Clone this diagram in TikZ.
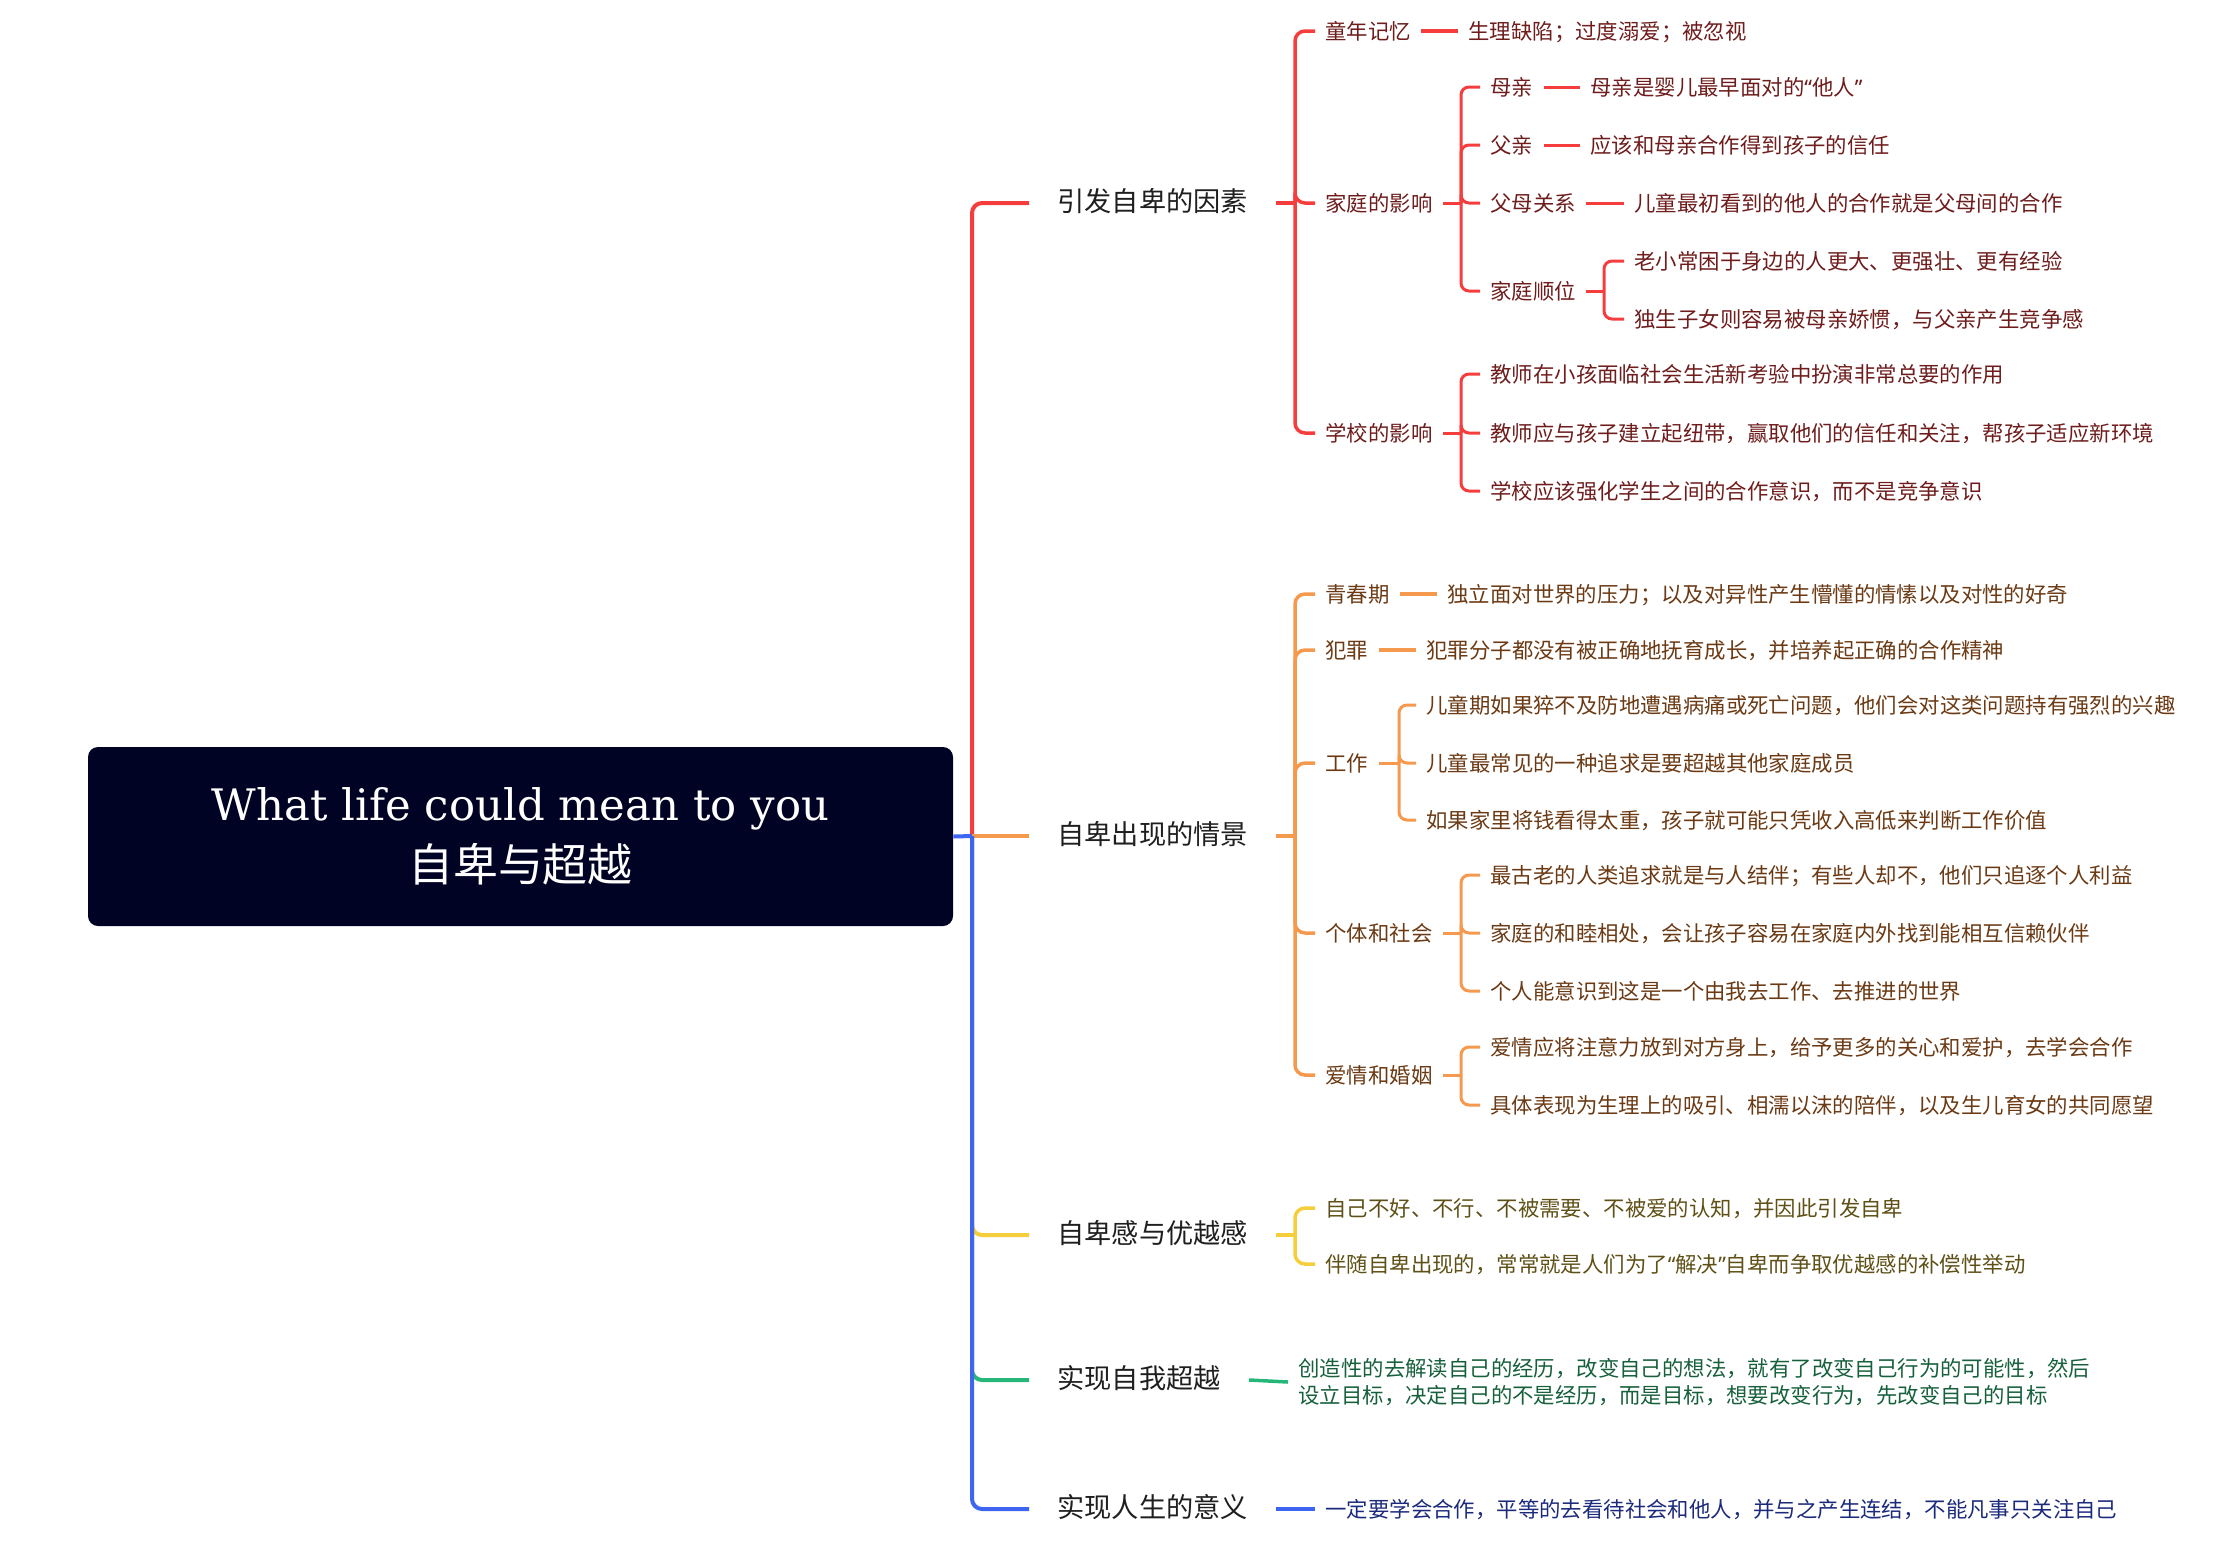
\documentclass[tikz,border=0pt]{standalone}
\usepackage{fontspec}
\setmainfont{Noto Sans CJK SC}
\newfontfamily\titlefont{DejaVu Serif}
\newfontfamily\qfont{Noto Sans}
\newcommand{\oqt}{{\qfont “}}
\newcommand{\cqt}{{\qfont ”}}
\definecolor{rootbg}{HTML}{000324}
\definecolor{redL}{HTML}{F53D3D}
\definecolor{redT}{HTML}{6E1C1C}
\definecolor{orgL}{HTML}{F5994E}
\definecolor{orgT}{HTML}{6B3A14}
\definecolor{yelL}{HTML}{F4CE3C}
\definecolor{yelT}{HTML}{5E5016}
\definecolor{grnL}{HTML}{25B779}
\definecolor{grnT}{HTML}{17603C}
\definecolor{bluL}{HTML}{3E64F2}
\definecolor{bluT}{HTML}{1C2A7C}
\begin{document}
\begin{tikzpicture}[x=0.5pt,y=-0.5pt]
    \tikzset{
    root/.style={rectangle,rounded corners=5pt,fill=rootbg,text=white,minimum width=432.5pt,minimum height=89.5pt,align=center,font=\fontsize{22.5}{30.5}\selectfont},
    l1/.style={anchor=west,inner xsep=14pt,inner ysep=2pt,text height=0.92em,text depth=0.04em,font=\fontsize{13.6}{16}\selectfont,text=black!88},
    l2/.style={anchor=west,inner xsep=5pt,inner ysep=2pt,text height=0.9em,text depth=0.06em,font=\fontsize{10.7}{13.5}\selectfont},
    rn/.style={l2,text=redT},
    on/.style={l2,text=orgT},
    yn/.style={l2,text=yelT},
    gn/.style={anchor=west,inner xsep=5pt,inner ysep=2pt,font=\fontsize{10.7}{13.5}\selectfont,text=grnT,align=left},
    bn/.style={l2,text=bluT},
    c1/.style={line width=2pt,rounded corners=5pt},
    c2/.style={line width=1.75pt,rounded corners=5pt},
    c3/.style={line width=1.5pt,rounded corners=4pt},
    }
    \useasboundingbox (0,0) rectangle (2224,1560);

    % root and main branches
    \node[root] (root) at (520.5,836.5) {{\titlefont\fontsize{21.7}{30.5}\selectfont What life could mean to you}\\自卑与超越};
    \coordinate (trunk) at (972,836);
    \node[l1] (cause) at (1029,203) {引发自卑的因素};
    \node[l1] (scene) at (1029,836) {自卑出现的情景};
    \node[l1] (feel) at (1029,1235) {自卑感与优越感};
    \node[l1] (self) at (1029,1380) {实现自我超越};
    \node[l1] (life) at (1029,1509) {实现人生的意义};
    \draw[c1,redL] (trunk) |- (cause.west);
    \draw[c1,orgL] (trunk) -- (scene.west);
    \draw[c1,yelL] (trunk) |- (feel.west);
    \draw[c1,grnL] (trunk) |- (self.west);
    \draw[c1,bluL] (root.east) -- (trunk);
    \draw[c1,bluL] (trunk) |- (life.west);

    % causes
    \coordinate (causeJ) at (1295,203);
    \node[rn] (kid) at (1315,31) {童年记忆};
    \node[rn] (kidA) at (1458,31) {生理缺陷；过度溺爱；被忽视};
    \node[rn] (home) at (1315,203) {家庭的影响};
    \node[rn] (school) at (1315,433) {学校的影响};
    \draw[c2,redL] (cause.east) -- (causeJ);
    \foreach \n in {kid,home,school}
        \draw[c2,redL] (causeJ) |- (\n.west);
    \draw[c2,redL] (kid.east) -- (kidA.west);

    \coordinate (homeJ) at (1461,203);
    \node[rn] (mom) at (1480,87) {母亲};
    \node[rn] (momA) at (1580,87) {母亲是婴儿最早面对的\oqt 他人\cqt};
    \node[rn] (dad) at (1480,145) {父亲};
    \node[rn] (dadA) at (1580,145) {应该和母亲合作得到孩子的信任};
    \node[rn] (par) at (1480,203) {父母关系};
    \node[rn] (parA) at (1624,203) {儿童最初看到的他人的合作就是父母间的合作};
    \node[rn] (order) at (1480,291) {家庭顺位};
    \coordinate (orderJ) at (1604,291);
    \node[rn] (orderA) at (1624,261) {老小常困于身边的人更大、更强壮、更有经验};
    \node[rn] (orderB) at (1624,319) {独生子女则容易被母亲娇惯，与父亲产生竞争感};
    \draw[c3,redL] (home.east) -- (homeJ);
    \foreach \n in {mom,dad,par,order}
        \draw[c3,redL] (homeJ) |- (\n.west);
    \draw[c3,redL] (mom.east) -- (momA.west);
    \draw[c3,redL] (dad.east) -- (dadA.west);
    \draw[c3,redL] (par.east) -- (parA.west);
    \draw[c3,redL] (order.east) -- (orderJ);
    \foreach \n in {orderA,orderB}
        \draw[c3,redL] (orderJ) |- (\n.west);

    \coordinate (schoolJ) at (1461,433);
    \node[rn] (schA) at (1480,374) {教师在小孩面临社会生活新考验中扮演非常总要的作用};
    \node[rn] (schB) at (1480,433) {教师应与孩子建立起纽带，赢取他们的信任和关注，帮孩子适应新环境};
    \node[rn] (schC) at (1480,491) {学校应该强化学生之间的合作意识，而不是竞争意识};
    \draw[c3,redL] (school.east) -- (schoolJ);
    \foreach \n in {schA,schB,schC}
        \draw[c3,redL] (schoolJ) |- (\n.west);

    % scenes
    \coordinate (sceneJ) at (1295,836);
    \node[on] (teen) at (1315,594) {青春期};
    \node[on] (teenA) at (1437,594) {独立面对世界的压力；以及对异性产生懵懂的情愫以及对性的好奇};
    \node[on] (crime) at (1315,650) {犯罪};
    \node[on] (crimeA) at (1416,650) {犯罪分子都没有被正确地抚育成长，并培养起正确的合作精神};
    \node[on] (work) at (1315,763) {工作};
    \node[on] (soc) at (1315,933) {个体和社会};
    \node[on] (love) at (1315,1075) {爱情和婚姻};
    \draw[c2,orgL] (scene.east) -- (sceneJ);
    \foreach \n in {teen,crime,work,soc,love}
        \draw[c2,orgL] (sceneJ) |- (\n.west);
    \draw[c2,orgL] (teen.east) -- (teenA.west);
    \draw[c2,orgL] (crime.east) -- (crimeA.west);

    \coordinate (workJ) at (1399,763);
    \node[on] (workA) at (1416,705) {儿童期如果猝不及防地遭遇病痛或死亡问题，他们会对这类问题持有强烈的兴趣};
    \node[on] (workB) at (1416,763) {儿童最常见的一种追求是要超越其他家庭成员};
    \node[on] (workC) at (1416,820) {如果家里将钱看得太重，孩子就可能只凭收入高低来判断工作价值};
    \draw[c3,orgL] (work.east) -- (workJ);
    \foreach \n in {workA,workB,workC}
        \draw[c3,orgL] (workJ) |- (\n.west);

    \coordinate (socJ) at (1461,933);
    \node[on] (socA) at (1480,875) {最古老的人类追求就是与人结伴；有些人却不，他们只追逐个人利益};
    \node[on] (socB) at (1480,933) {家庭的和睦相处，会让孩子容易在家庭内外找到能相互信赖伙伴};
    \node[on] (socC) at (1480,991) {个人能意识到这是一个由我去工作、去推进的世界};
    \draw[c3,orgL] (soc.east) -- (socJ);
    \foreach \n in {socA,socB,socC}
        \draw[c3,orgL] (socJ) |- (\n.west);

    \coordinate (loveJ) at (1461,1075);
    \node[on] (loveA) at (1480,1047) {爱情应将注意力放到对方身上，给予更多的关心和爱护，去学会合作};
    \node[on] (loveB) at (1480,1105) {具体表现为生理上的吸引、相濡以沫的陪伴，以及生儿育女的共同愿望};
    \draw[c3,orgL] (love.east) -- (loveJ);
    \foreach \n in {loveA,loveB}
        \draw[c3,orgL] (loveJ) |- (\n.west);

    % feelings
    \coordinate (feelJ) at (1295,1235);
    \node[yn] (feelA) at (1315,1208) {自己不好、不行、不被需要、不被爱的认知，并因此引发自卑};
    \node[yn] (feelB) at (1315,1264) {伴随自卑出现的，常常就是人们为了\oqt 解决\cqt 自卑而争取优越感的补偿性举动};
    \draw[c2,yelL] (feel.east) -- (feelJ);
    \foreach \n in {feelA,feelB}
        \draw[c2,yelL] (feelJ) |- (\n.west);

    % self and life
    \node[gn] (selfA) at (1288,1382) {创造性的去解读自己的经历，改变自己的想法，就有了改变自己行为的可能性，然后\\设立目标，决定自己的不是经历，而是目标，想要改变行为，先改变自己的目标};
    \draw[c2,grnL] (self.east) -- (selfA.west);
    \node[bn] (lifeA) at (1315,1509) {一定要学会合作，平等的去看待社会和他人，并与之产生连结，不能凡事只关注自己};
    \draw[c2,bluL] (life.east) -- (lifeA.west);
\end{tikzpicture}
\end{document}
